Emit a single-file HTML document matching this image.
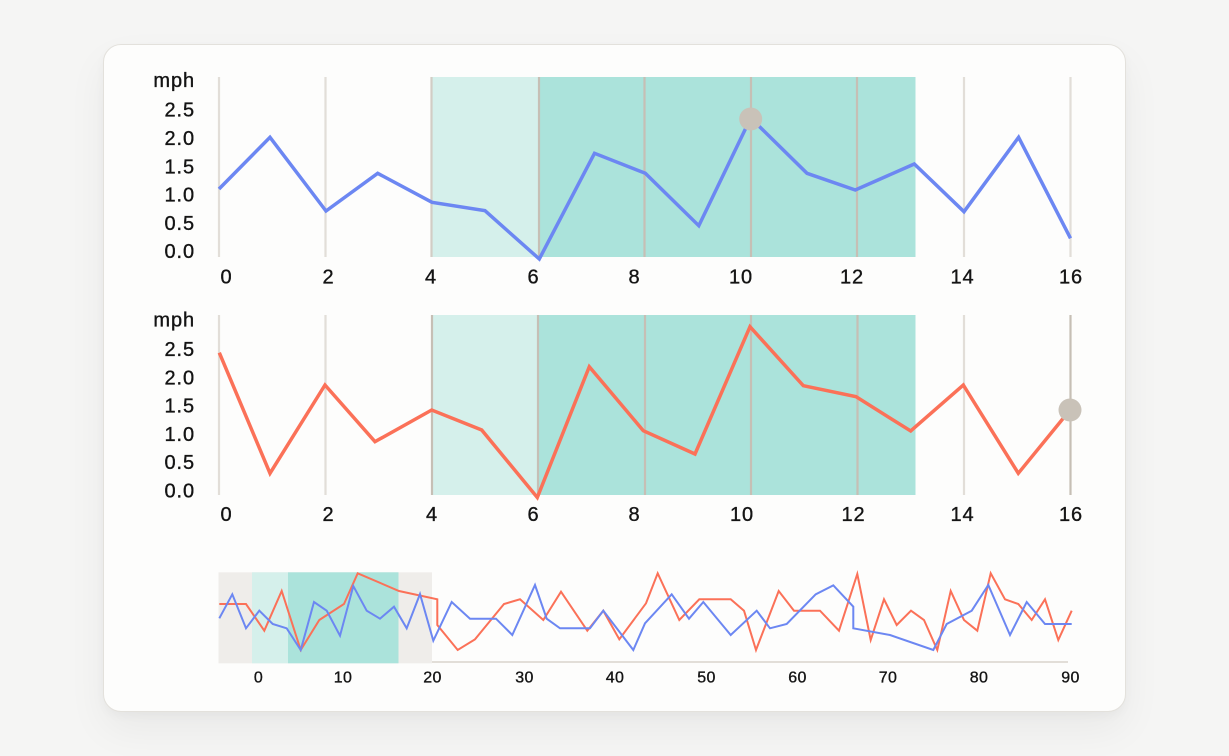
<!DOCTYPE html>
<html><head><meta charset="utf-8"><style>
html,body{margin:0;padding:0;}
body{width:1229px;height:756px;background:#f5f5f4;position:relative;overflow:hidden;font-family:"Liberation Sans",sans-serif;}
.card{position:absolute;left:103px;top:44px;width:1021px;height:666px;background:#fdfdfc;border:1px solid #e3e1dc;border-radius:18px;box-shadow:0 18px 40px rgba(0,0,0,0.05),0 4px 10px rgba(0,0,0,0.03);}
svg{position:absolute;left:0;top:0;}
text{font-family:"Liberation Sans",sans-serif;fill:#141414;stroke:#141414;stroke-width:0.35;}
.big{font-size:20px;letter-spacing:0.9px;}
.small{font-size:16px;letter-spacing:0.3px;}
</style></head><body>
<div class="card"></div>
<svg width="1229" height="756" viewBox="0 0 1229 756">
<!-- TOP CHART -->
<rect x="431" y="77" width="108" height="180" fill="#d5f0eb"/>
<rect x="539" y="77" width="376.5" height="180" fill="#abe3db"/>
<g stroke-width="2.2">
<line x1="219" y1="77" x2="219" y2="257" stroke="#e2ded8"/>
<line x1="325.5" y1="77" x2="325.5" y2="257" stroke="#e2ded8"/>
<line x1="431.5" y1="77" x2="431.5" y2="257" stroke="#d2cdc5"/>
<line x1="539" y1="77" x2="539" y2="257" stroke="#c6bfb5"/>
<line x1="644.5" y1="77" x2="644.5" y2="257" stroke="#c6bfb5"/>
<line x1="751" y1="77" x2="751" y2="257" stroke="#c6bfb5"/>
<line x1="857" y1="77" x2="857" y2="257" stroke="#c6bfb5"/>
<line x1="964" y1="77" x2="964" y2="257" stroke="#e2ded8"/>
<line x1="1070.5" y1="77" x2="1070.5" y2="257" stroke="#e2ded8"/>
</g>
<polyline fill="none" stroke="#6c87f2" stroke-width="3.5" stroke-linejoin="miter" points="219,189 270,137.3 326,211 377.7,173.3 432,202.3 485,210.7 539.3,259 594.5,153.3 645.3,173.3 698.8,225.7 750.7,118 807,173.3 855.3,190 914.3,164 964,211.7 1018.6,137.3 1070.5,238.3"/>
<circle cx="750.7" cy="119" r="11.5" fill="#c9c2b8"/>
<g class="big" text-anchor="end">
<text x="195" y="87">mph</text>
<text x="195" y="116.7">2.5</text>
<text x="195" y="145">2.0</text>
<text x="195" y="173.3">1.5</text>
<text x="195" y="201.6">1.0</text>
<text x="195" y="229.9">0.5</text>
<text x="195" y="258.2">0.0</text>
</g>
<g class="big" text-anchor="middle">
<text x="226.5" y="283.5">0</text>
<text x="328.5" y="283.5">2</text>
<text x="431" y="283.5">4</text>
<text x="533.5" y="283.5">6</text>
<text x="634.5" y="283.5">8</text>
<text x="741" y="283.5">10</text>
<text x="852" y="283.5">12</text>
<text x="962.5" y="283.5">14</text>
<text x="1071" y="283.5">16</text>
</g>

<!-- MIDDLE CHART -->
<rect x="431" y="315" width="108" height="180" fill="#d5f0eb"/>
<rect x="539" y="315" width="376.5" height="180" fill="#abe3db"/>
<g stroke-width="2.2">
<line x1="219" y1="315" x2="219" y2="495" stroke="#e2ded8"/>
<line x1="325.5" y1="315" x2="325.5" y2="495" stroke="#e2ded8"/>
<line x1="432" y1="315" x2="432" y2="495" stroke="#c6bfb5"/>
<line x1="538" y1="315" x2="538" y2="495" stroke="#c6bfb5"/>
<line x1="645" y1="315" x2="645" y2="495" stroke="#c6bfb5"/>
<line x1="751" y1="315" x2="751" y2="495" stroke="#c6bfb5"/>
<line x1="857.5" y1="315" x2="857.5" y2="495" stroke="#c6bfb5"/>
<line x1="964" y1="315" x2="964" y2="495" stroke="#e2ded8"/>
<line x1="1070.5" y1="315" x2="1070.5" y2="495" stroke="#c6bfb5"/>
</g>
<polyline fill="none" stroke="#fb7158" stroke-width="3.5" points="219.3,352.7 270,473.3 325,385 375,441.7 431.7,410 481.7,430 537.3,497.5 589.3,366.7 643.3,430.7 695,454 750,326.7 803.3,385.7 856,396.7 910.7,431 963.3,385 1018.3,473.3 1070,410"/>
<circle cx="1070" cy="410" r="11.5" fill="#c9c2b8"/>
<g class="big" text-anchor="end">
<text x="195" y="326.5">mph</text>
<text x="195" y="356">2.5</text>
<text x="195" y="384.3">2.0</text>
<text x="195" y="412.6">1.5</text>
<text x="195" y="440.9">1.0</text>
<text x="195" y="469.2">0.5</text>
<text x="195" y="497.5">0.0</text>
</g>
<g class="big" text-anchor="middle">
<text x="226.5" y="521">0</text>
<text x="328.5" y="521">2</text>
<text x="432" y="521">4</text>
<text x="533.5" y="521">6</text>
<text x="634.5" y="521">8</text>
<text x="742" y="521">10</text>
<text x="853.5" y="521">12</text>
<text x="962.5" y="521">14</text>
<text x="1071" y="521">16</text>
</g>

<!-- BOTTOM BRUSH CHART -->
<line x1="219" y1="662" x2="1068" y2="662" stroke="#e2ded8" stroke-width="2"/>
<rect x="218.5" y="572.3" width="213.5" height="91" fill="#efedea"/>
<rect x="252" y="572.3" width="36" height="91" fill="#d5f0eb"/>
<rect x="288" y="572.3" width="110.5" height="91" fill="#abe3db"/>
<polyline fill="none" stroke="#fb7158" stroke-width="2" points="219.3,604 246,604 264.3,630.7 281.7,591 300.7,650 319.3,620 344,604 357.7,573.3 399,591 437.3,599.3 437.3,625 457.7,650 475,639.3 504,604 520,599.3 543.3,620 561,591.7 587.3,630.7 603.3,610.7 619.3,639.3 646,603.3 657.7,573.3 679.3,620 699.3,599.3 730.7,599.3 744,610.7 756,650 778.7,591 794,610.7 820,610.7 839,630.7 857.3,574 870.7,640 884,599.3 896.7,625 911,610.7 924,620 937.3,650 950.7,591 964,620 977.3,630.7 990.7,573.3 1005,599.3 1018.3,604 1031.7,620 1045,599.3 1058.3,640 1071.7,610.7"/>
<polyline fill="none" stroke="#6c87f2" stroke-width="2" points="219.3,618.3 232.3,594.3 246,628.3 259.3,610.7 272.7,624 286.7,628.3 300.7,650 314,602 326.7,610.7 340,635.7 353.3,586 366.7,610.7 380,618.7 394,606.7 406.7,628.3 420,594 433.3,640.7 451.7,602 470,618.7 496,618.7 512.3,635 535,585 546.7,618.7 560,628.3 590,628.3 603.3,610.7 633.3,650 645,623.3 671.7,594.3 689,618.7 703.3,602 730.7,635 756.7,610.7 770,628.3 786.7,624 815.7,594.3 833.3,585.3 853.3,606.7 853.3,628.3 890,635 933.3,650 946.7,624 971.7,610.7 988.3,585 1010,635 1026.7,602 1045,624 1071.7,624"/>
<g class="small" text-anchor="middle">
<text x="258.5" y="682.5">0</text>
<text x="343" y="682.5">10</text>
<text x="432.5" y="682.5">20</text>
<text x="524.5" y="682.5">30</text>
<text x="615" y="682.5">40</text>
<text x="706.5" y="682.5">50</text>
<text x="797.5" y="682.5">60</text>
<text x="888" y="682.5">70</text>
<text x="979" y="682.5">80</text>
<text x="1070.5" y="682.5">90</text>
</g>
</svg>
</body></html>
